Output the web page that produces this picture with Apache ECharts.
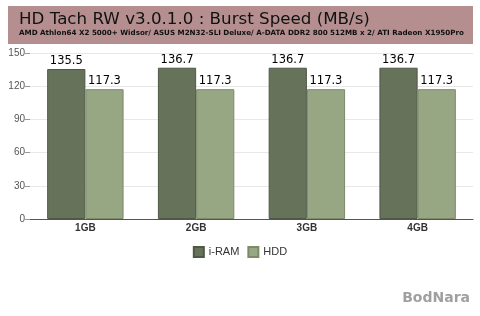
<!DOCTYPE html>
<html><head><meta charset="utf-8">
<script src="https://cdn.jsdelivr.net/npm/echarts@6/dist/echarts.min.js"></script>
<style>html,body{margin:0;padding:0;background:#fff}#c{width:480px;height:316px}</style>
</head><body><div id="c"></div>
<script>
const categories = ['1GB', '2GB', '3GB', '4GB'];
const iram = [135.5, 136.7, 136.7, 136.7];
const hdd = [117.3, 117.3, 117.3, 117.3];
const yTicks = [0, 30, 60, 90, 120, 150];

const chart = echarts.init(document.getElementById('c'));
const lbl = {show: true, position: 'top', distance: 2, color: '#000', fontSize: 11.5, fontFamily: 'DejaVu Sans'};
chart.setOption({
  animation: false,
  graphic: [
    {type: 'rect', shape: {x: 8, y: 6, width: 465, height: 38}, style: {fill: '#b58f8f'}},
    {type: 'text', left: 19, top: 11, style: {text: 'HD Tach RW v3.0.1.0 : Burst Speed (MB/s)', fontSize: 16.7, fontFamily: 'DejaVu Sans', fill: '#111'}},
    {type: 'text', left: 19, top: 30, style: {text: 'AMD Athlon64 X2 5000+ Widsor/ ASUS M2N32-SLI Deluxe/ A-DATA DDR2 800 512MB x 2/ ATI Radeon X1950Pro', fontSize: 7.15, fontWeight: 'bold', fontFamily: 'DejaVu Sans', fill: '#111'}},
    {type: 'text', right: 10, top: 291, style: {text: 'BodNara', fontSize: 14, fontWeight: 'bold', fontFamily: 'DejaVu Sans', fill: '#a0a0a0'}}
  ],
  legend: {bottom: 53, left: 'center', itemWidth: 10, itemHeight: 10, itemGap: 8, icon: 'rect',
    textStyle: {fontSize: 11, color: '#333', fontFamily: 'Arial, Liberation Sans'},
    data: ['i-RAM', 'HDD']},
  grid: {left: 30, right: 7, top: 53, bottom: 97},
  xAxis: {type: 'category', data: categories,
    axisLine: {lineStyle: {color: '#555'}}, axisTick: {show: false},
    axisLabel: {fontSize: 10, fontWeight: 'bold', color: '#333', margin: 4, fontFamily: 'Arial, Liberation Sans'}},
  yAxis: {type: 'value', min: yTicks[0], max: yTicks[yTicks.length - 1], interval: 30,
    axisLine: {show: false}, axisTick: {show: true, length: 5, lineStyle: {color: '#999'}},
    splitLine: {lineStyle: {color: '#e8e8e8'}},
    axisLabel: {fontSize: 10, color: '#555', margin: 5, fontFamily: 'Arial, Liberation Sans'}},
  series: [
    {name: 'i-RAM', type: 'bar', data: iram, barGap: '0%', barCategoryGap: '31%',
     itemStyle: {color: '#66725a', borderColor: '#4e5846', borderWidth: 1}, label: lbl},
    {name: 'HDD', type: 'bar', data: hdd,
     itemStyle: {color: '#97a683', borderColor: '#7c8a6a', borderWidth: 1}, label: lbl}
  ]
});
</script></body></html>
